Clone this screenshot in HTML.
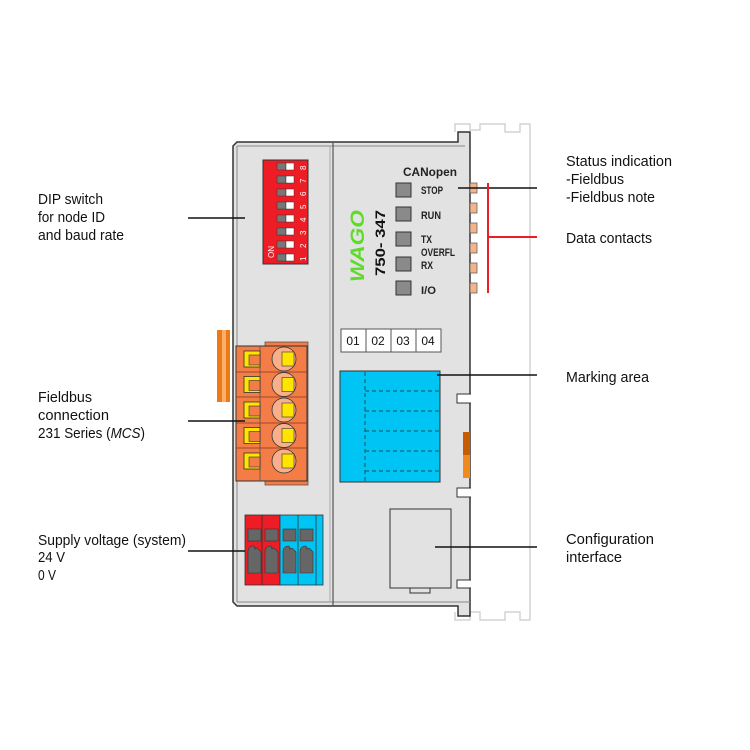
<!DOCTYPE html>
<html><head><meta charset="utf-8"><style>
html,body{margin:0;padding:0;background:#fff}
svg{display:block}
.t{font-family:"Liberation Sans",sans-serif;font-size:15px;fill:#111}
.l{font-family:"Liberation Sans",sans-serif;font-size:11px;font-weight:bold;fill:#222}
</style></head><body>
<svg width="750" height="750" viewBox="0 0 750 750" xmlns="http://www.w3.org/2000/svg">
<g fill="none" stroke="#d4d4d4" stroke-width="1.5">
<path d="M455 132 V124 H470 V130 H480 V124 H505 V132 H520 V124 H530 V620 H520 V612 H505 V620 H480 V612 H470 V620 H455 V612"/>
</g>
<path d="M233 146 L237 142 H458 V132 H470 V606 H470 V616 H458 V606 H237 L233 602 Z" fill="#e2e2e2" stroke="#333" stroke-width="1.5"/>
<line x1="237" y1="146" x2="465" y2="146" stroke="#888" stroke-width="1"/>
<line x1="237" y1="146" x2="237" y2="602" stroke="#888" stroke-width="1"/>
<line x1="237" y1="602" x2="470" y2="602" stroke="#888" stroke-width="1"/>
<line x1="333" y1="142" x2="333" y2="606" stroke="#555" stroke-width="1.2"/>
<line x1="330" y1="146" x2="330" y2="602" stroke="#aaa" stroke-width="1"/>
<g fill="#fff" stroke="#333" stroke-width="1">
<path d="M471 394 H457 V403 H471"/><path d="M471 488 H457 V497 H471"/><path d="M471 580 H457 V588 H471"/>
</g>
<rect x="463" y="432" width="7" height="23" fill="#c85c00"/>
<rect x="463" y="455" width="7" height="23" fill="#f08a1c"/>
<g fill="#f2b48a" stroke="#555" stroke-width="0.7">
<rect x="470" y="183" width="7" height="10"/><rect x="470" y="203" width="7" height="10"/><rect x="470" y="223" width="7" height="10"/><rect x="470" y="243" width="7" height="10"/><rect x="470" y="263" width="7" height="10"/><rect x="470" y="283" width="7" height="10"/>
</g>
<rect x="263" y="160" width="45" height="104" fill="#ee1c25" stroke="#333" stroke-width="1"/>
<g>
<g id="sw"><rect x="277" y="163" width="9" height="7" fill="#777" stroke="#333" stroke-width="0.5"/><rect x="286" y="163" width="8" height="7" fill="#fff" stroke="#333" stroke-width="0.5"/></g>
<use href="#sw" y="13"/><use href="#sw" y="26"/><use href="#sw" y="39"/><use href="#sw" y="52"/><use href="#sw" y="65"/><use href="#sw" y="78"/><use href="#sw" y="91"/>
</g>
<g font-family="Liberation Sans" font-size="8" fill="#fff">
<text transform="translate(306,170) rotate(-90)">8</text>
<text transform="translate(306,183) rotate(-90)">7</text>
<text transform="translate(306,196) rotate(-90)">6</text>
<text transform="translate(306,209) rotate(-90)">5</text>
<text transform="translate(306,222) rotate(-90)">4</text>
<text transform="translate(306,235) rotate(-90)">3</text>
<text transform="translate(306,248) rotate(-90)">2</text>
<text transform="translate(306,261) rotate(-90)">1</text>
<text transform="translate(274,258) rotate(-90)">ON</text>
</g>
<text transform="translate(364,282) rotate(-90)" font-family="Liberation Sans" font-weight="bold" font-style="italic" font-size="19" fill="#5fdc2a" textLength="72" lengthAdjust="spacingAndGlyphs">WAGO</text>
<text transform="translate(385,276) rotate(-90)" font-family="Liberation Sans" font-weight="bold" font-size="14" fill="#111" textLength="66" lengthAdjust="spacingAndGlyphs">750- 347</text>
<text x="403" y="176" font-family="Liberation Sans" font-weight="bold" font-size="12" fill="#222" textLength="54" lengthAdjust="spacingAndGlyphs">CANopen</text>
<g fill="#8a8a8a" stroke="#333" stroke-width="1">
<rect x="396" y="183" width="15" height="14"/><rect x="396" y="207" width="15" height="14"/><rect x="396" y="232" width="15" height="14"/><rect x="396" y="257" width="15" height="14"/><rect x="396" y="281" width="15" height="14"/>
</g>
<text class="l" x="421" y="194" textLength="22" lengthAdjust="spacingAndGlyphs">STOP</text>
<text class="l" x="421" y="219" textLength="20" lengthAdjust="spacingAndGlyphs">RUN</text>
<text class="l" x="421" y="243" textLength="11" lengthAdjust="spacingAndGlyphs">TX</text>
<text class="l" x="421" y="256" textLength="34" lengthAdjust="spacingAndGlyphs">OVERFL</text>
<text class="l" x="421" y="269" textLength="12" lengthAdjust="spacingAndGlyphs">RX</text>
<text class="l" x="421" y="294" textLength="15" lengthAdjust="spacingAndGlyphs">I/O</text>
<g fill="#fff" stroke="#555" stroke-width="1">
<rect x="341" y="329" width="25" height="23"/><rect x="366" y="329" width="25" height="23"/><rect x="391" y="329" width="25" height="23"/><rect x="416" y="329" width="25" height="23"/>
</g>
<g font-family="Liberation Sans" font-size="12" fill="#111" text-anchor="middle">
<text x="353" y="345">01</text><text x="378" y="345">02</text><text x="403" y="345">03</text><text x="428" y="345">04</text>
</g>
<rect x="340" y="371" width="100" height="111" fill="#00c4f4" stroke="#333" stroke-width="1"/>
<g stroke="#155" stroke-width="1" stroke-dasharray="4,3">
<line x1="365" y1="372" x2="365" y2="481"/>
<line x1="365" y1="391" x2="440" y2="391"/><line x1="365" y1="411" x2="440" y2="411"/><line x1="365" y1="431" x2="440" y2="431"/><line x1="365" y1="451" x2="440" y2="451"/><line x1="365" y1="471" x2="440" y2="471"/>
</g>
<rect x="390" y="509" width="61" height="79" fill="#e2e2e2" stroke="#333" stroke-width="1"/>
<rect x="410" y="588" width="20" height="5" fill="#e2e2e2" stroke="#333" stroke-width="1"/>
<rect x="217" y="330" width="13" height="72" fill="#ef7a14"/>
<rect x="222" y="330" width="4" height="72" fill="#f7b070"/>
<rect x="265" y="342" width="43" height="143" fill="#f47c46" stroke="#555" stroke-width="0.8"/>
<rect x="236" y="346" width="71" height="135" fill="#f47c46" stroke="#333" stroke-width="1"/>
<line x1="260" y1="346" x2="260" y2="481" stroke="#555" stroke-width="0.8"/>
<g stroke="#7a3a20" stroke-width="0.8"><line x1="236" y1="372" x2="307" y2="372"/><line x1="236" y1="397" x2="307" y2="397"/><line x1="236" y1="423" x2="307" y2="423"/><line x1="236" y1="448" x2="307" y2="448"/></g>
<g id="row">
<rect x="244" y="351" width="16" height="16" fill="#ffe400" stroke="#333" stroke-width="0.8"/><rect x="249" y="355" width="11" height="10" fill="#f47c46" stroke="#333" stroke-width="0.6"/>
<circle cx="284" cy="359" r="12" fill="#f9b08a" stroke="#333" stroke-width="0.8"/>
<rect x="282" y="352" width="12" height="14" fill="#ffe400" stroke="#333" stroke-width="0.6"/>
</g>
<use href="#row" y="25.5"/><use href="#row" y="51"/><use href="#row" y="76.5"/><use href="#row" y="102"/>
<rect x="245" y="515" width="35" height="70" fill="#ee1c25" stroke="#333" stroke-width="0.8"/>
<rect x="280" y="515" width="43" height="70" fill="#00c4f4" stroke="#333" stroke-width="0.8"/>
<line x1="262" y1="515" x2="262" y2="585" stroke="#333" stroke-width="0.8"/>
<line x1="298" y1="515" x2="298" y2="585" stroke="#333" stroke-width="0.8"/>
<line x1="316" y1="515" x2="316" y2="585" stroke="#333" stroke-width="0.8"/>
<g fill="#666" stroke="#333" stroke-width="0.6">
<rect x="248" y="529" width="13" height="12"/><rect x="265" y="529" width="13" height="12"/><rect x="283" y="529" width="13" height="12"/><rect x="300" y="529" width="13" height="12"/>
<path d="M248 573 V552 Q248 546 254 546 Q255 549 255 549 Q256 546 261 552 V573Z"/>
<path d="M265 573 V552 Q265 546 271 546 Q272 549 272 549 Q273 546 278 552 V573Z"/>
<path d="M283 573 V552 Q283 546 289 546 Q290 549 290 549 Q291 546 296 552 V573Z"/>
<path d="M300 573 V552 Q300 546 306 546 Q307 549 307 549 Q308 546 313 552 V573Z"/>
</g>
<g stroke="#111" stroke-width="1.5">
<line x1="188" y1="218" x2="245" y2="218"/>
<line x1="188" y1="421" x2="245" y2="421"/>
<line x1="188" y1="551" x2="245" y2="551"/>
<line x1="458" y1="188" x2="537" y2="188"/>
<line x1="437" y1="375" x2="537" y2="375"/>
<line x1="435" y1="547" x2="537" y2="547"/>
</g>
<g stroke="#ee1c25" stroke-width="2"><line x1="488" y1="183" x2="488" y2="293"/><line x1="488" y1="237" x2="537" y2="237"/></g>
<text class="t" x="38" y="204" textLength="65" lengthAdjust="spacingAndGlyphs">DIP switch</text>
<text class="t" x="38" y="222" textLength="67" lengthAdjust="spacingAndGlyphs">for node ID</text>
<text class="t" x="38" y="240" textLength="86" lengthAdjust="spacingAndGlyphs">and baud rate</text>
<text class="t" x="38" y="402" textLength="54" lengthAdjust="spacingAndGlyphs">Fieldbus</text>
<text class="t" x="38" y="420" textLength="71" lengthAdjust="spacingAndGlyphs">connection</text>
<text class="t" x="38" y="438" textLength="107" lengthAdjust="spacingAndGlyphs">231 Series (<tspan font-style="italic">MCS</tspan>)</text>
<text class="t" x="38" y="545" textLength="148" lengthAdjust="spacingAndGlyphs">Supply voltage (system)</text>
<text class="t" x="38" y="562" textLength="27" lengthAdjust="spacingAndGlyphs">24 V</text>
<text class="t" x="38" y="580" textLength="18" lengthAdjust="spacingAndGlyphs">0 V</text>
<text class="t" x="566" y="166" textLength="106" lengthAdjust="spacingAndGlyphs">Status indication</text>
<text class="t" x="566" y="184" textLength="58" lengthAdjust="spacingAndGlyphs">-Fieldbus</text>
<text class="t" x="566" y="202" textLength="89" lengthAdjust="spacingAndGlyphs">-Fieldbus note</text>
<text class="t" x="566" y="243" textLength="86" lengthAdjust="spacingAndGlyphs">Data contacts</text>
<text class="t" x="566" y="382" textLength="83" lengthAdjust="spacingAndGlyphs">Marking area</text>
<text class="t" x="566" y="544" textLength="88" lengthAdjust="spacingAndGlyphs">Configuration</text>
<text class="t" x="566" y="562" textLength="56" lengthAdjust="spacingAndGlyphs">interface</text>
</svg>
</body></html>
